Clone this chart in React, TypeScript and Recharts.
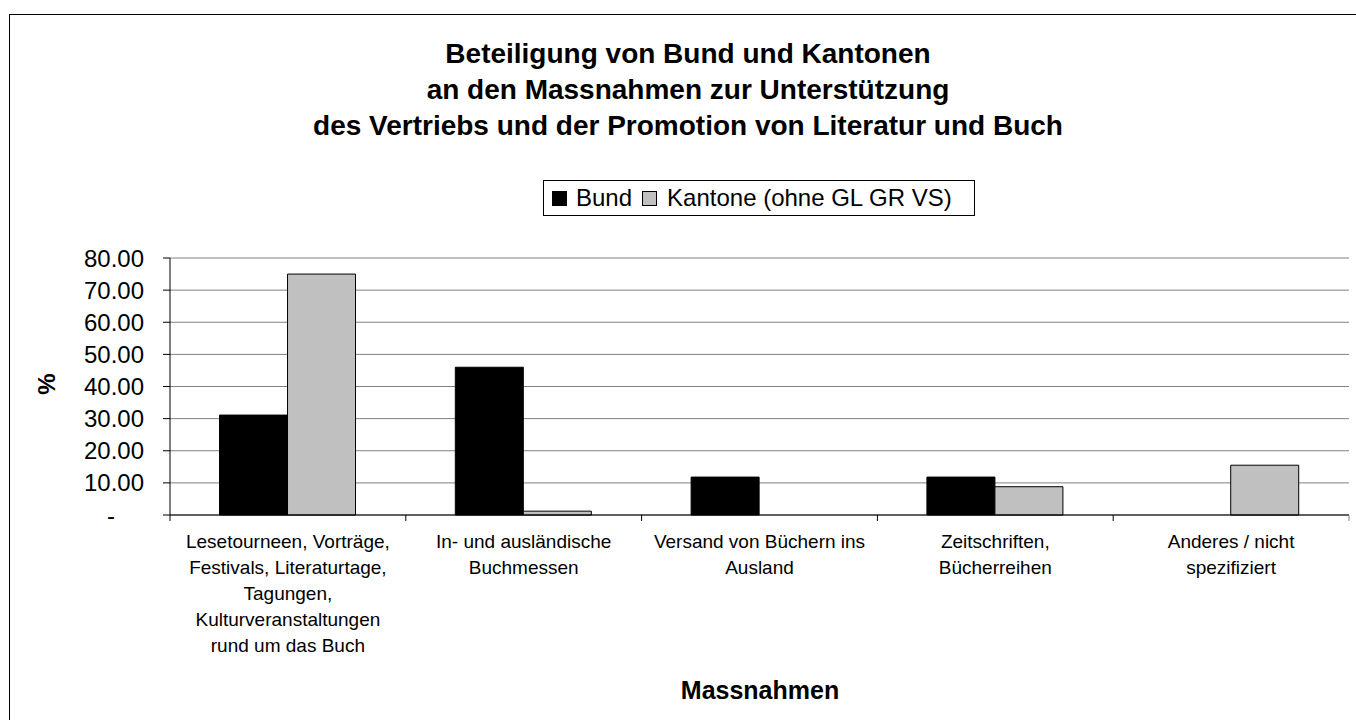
import React from 'react';
import { BarChart, Bar, XAxis, YAxis, CartesianGrid } from 'recharts';

// categories (x axis), one entry per group of bars
const categories = [
  'Lesetourneen, Vorträge, Festivals, Literaturtage, Tagungen, Kulturveranstaltungen rund um das Buch',
  'In- und ausländische Buchmessen',
  'Versand von Büchern ins Ausland',
  'Zeitschriften, Bücherreihen',
  'Anderes / nicht spezifiziert',
];

// tick labels as they wrap in the original
const categoryLines = [
  ['Lesetourneen, Vorträge,', 'Festivals, Literaturtage,', 'Tagungen,', 'Kulturveranstaltungen', 'rund um das Buch'],
  ['In- und ausländische', 'Buchmessen'],
  ['Versand von Büchern ins', 'Ausland'],
  ['Zeitschriften,', 'Bücherreihen'],
  ['Anderes / nicht', 'spezifiziert'],
];

// % per category
const bund = [31.1, 46.0, 11.8, 11.8, 0];
const kantone = [75.0, 1.2, 0, 8.8, 15.5];

const yTicks = [0, 10, 20, 30, 40, 50, 60, 70, 80];

const titleLines = [
  'Beteiligung von Bund und Kantonen',
  'an den Massnahmen zur Unterstützung',
  'des Vertriebs und der Promotion von Literatur und Buch',
];

const data = categories.map((name, i) => ({ name, bund: bund[i], kantone: kantone[i] }));

const FONT = 'Arial, "Liberation Sans", sans-serif';

// label lines plus the tick marks on the category boundaries (Excel style)
const CategoryTick = (props: any) => {
  const { x, y, payload, index } = props;
  const lines = categoryLines[categories.indexOf(payload.value)] || [];
  const half = payload.offset || 0;
  return (
    <g>
      {half > 0 && <line x1={x - half} x2={x - half} y1={y} y2={y + 6} stroke="#000" />}
      {half > 0 && index === categories.length - 1 && (
        <line x1={x + half} x2={x + half} y1={y} y2={y + 6} stroke="#808080" />
      )}
      <text x={x} y={y} textAnchor="middle" fontSize={19} fontFamily={FONT} fill="#000">
        {lines.map((line, i) => (
          <tspan key={i} x={x} y={y + 33 + i * 26}>
            {line}
          </tspan>
        ))}
      </text>
    </g>
  );
};

const ValueTick = (props: any) => {
  const { x, y, payload } = props;
  const isZero = payload.value === 0;
  return (
    <text x={isZero ? x - 29 : x} y={y + 8.5} textAnchor="end" fontSize={24} fontFamily={FONT} fill="#000">
      {isZero ? '-' : payload.value.toFixed(2)}
    </text>
  );
};

export default function App() {
  return (
    <div style={{ position: 'absolute', left: 0, top: 0, width: 1356, height: 720, overflow: 'hidden', background: '#fff', fontFamily: FONT }}>
      {/* outer chart frame, cut off at right and bottom like the original */}
      <div style={{ position: 'absolute', left: 9, top: 14, width: 1400, height: 800, border: '1px solid #000' }} />

      <div style={{ position: 'absolute', left: 288, top: 36, width: 800, textAlign: 'center', fontSize: 28, fontWeight: 'bold', lineHeight: '36px', color: '#000' }}>
        {titleLines.map((t, i) => (
          <div key={i}>{t}</div>
        ))}
      </div>

      {/* legend */}
      <div style={{ position: 'absolute', left: 543, top: 180, width: 432, height: 36, boxSizing: 'border-box', border: '1px solid #000', display: 'flex', alignItems: 'center', paddingLeft: 8, fontSize: 24, color: '#000', whiteSpace: 'nowrap' }}>
        <span style={{ width: 15, height: 15, background: '#000', display: 'inline-block', marginRight: 9 }} />
        <span style={{ marginRight: 10 }}>Bund</span>
        <span style={{ width: 13, height: 13, background: '#c0c0c0', border: '1px solid #000', display: 'inline-block', marginRight: 10 }} />
        <span>Kantone (ohne GL GR VS)</span>
      </div>

      <div style={{ position: 'absolute', left: 47, top: 384, transform: 'translate(-50%, -50%) rotate(-90deg)', fontSize: 24, fontWeight: 'bold', color: '#000' }}>%</div>
      <div style={{ position: 'absolute', left: 760, top: 678, transform: 'translateX(-50%)', fontSize: 25, fontWeight: 'bold', lineHeight: '25px', color: '#000' }}>Massnahmen</div>

      <div style={{ position: 'absolute', left: 0, top: 0 }}>
        <BarChart
          width={1356}
          height={720}
          data={data}
          margin={{ top: 258, right: 7, bottom: 55, left: 70 }}
          barCategoryGap="21%"
          barGap={0}
        >
          <CartesianGrid vertical={false} stroke="#808080" yAxisId="left" />
          <XAxis
            dataKey="name"
            height={150}
            interval={0}
            tick={<CategoryTick />}
            tickLine={false}
            tickSize={0}
            tickMargin={0}
            axisLine={{ stroke: '#000' }}
          />
          <YAxis
            yAxisId="left"
            domain={[0, 80]}
            ticks={yTicks}
            width={100}
            tickSize={7}
            tickMargin={19}
            tick={<ValueTick />}
            tickLine={{ stroke: '#000' }}
            axisLine={{ stroke: '#000' }}
          />
          <YAxis
            yAxisId="right"
            orientation="right"
            domain={[0, 80]}
            width={0}
            tick={false}
            tickLine={false}
            axisLine={{ stroke: '#808080' }}
          />
          <Bar yAxisId="left" dataKey="bund" fill="#000" stroke="#000" strokeWidth={1} isAnimationActive={false} />
          <Bar yAxisId="left" dataKey="kantone" fill="#c0c0c0" stroke="#000" strokeWidth={1} isAnimationActive={false} />
        </BarChart>
      </div>
    </div>
  );
}
